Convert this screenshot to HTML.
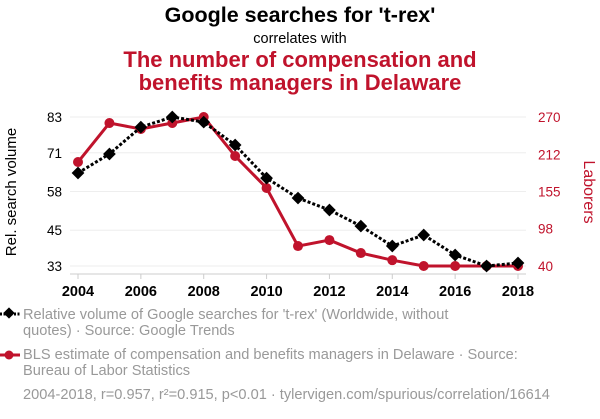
<!DOCTYPE html>
<html><head><meta charset="utf-8"><style>
body{margin:0;background:#fff;width:600px;height:414px;overflow:hidden;font-family:"Liberation Sans",sans-serif}
</style></head><body>
<svg width="600" height="414" xmlns="http://www.w3.org/2000/svg" font-family="Liberation Sans, sans-serif">
<text x="300" y="22" text-anchor="middle" font-size="21.5" font-weight="bold" fill="#000">Google searches for 't-rex'</text>
<text x="300" y="43" text-anchor="middle" font-size="14.5" fill="#000">correlates with</text>
<text x="300" y="67" text-anchor="middle" font-size="22" font-weight="bold" fill="#c0132c">The number of compensation and</text>
<text x="300" y="90" text-anchor="middle" font-size="22" font-weight="bold" fill="#c0132c">benefits managers in Delaware</text>
<g id="grid"></g><g id="axes"></g><g id="marks"></g>
<text transform="translate(16,192) rotate(-90)" text-anchor="middle" font-size="15" fill="#000">Rel. search volume</text>
<text transform="translate(584,192) rotate(90)" text-anchor="middle" font-size="16" fill="#c0132c">Laborers</text>
<g>
<line x1="0" y1="314" x2="20" y2="314" stroke="#000" stroke-width="3" stroke-dasharray="2,1.5"/>
<rect x="5" y="309" width="8" height="8" transform="rotate(45 9 313)" fill="#000"/>
<text x="23" y="319" font-size="14.6" fill="#999">Relative volume of Google searches for 't-rex' (Worldwide, without</text>
<text x="23" y="335" font-size="14.6" fill="#999">quotes) · Source: Google Trends</text></g>
<g>
<line x1="0" y1="355" x2="20" y2="355" stroke="#c0132c" stroke-width="3"/>
<circle cx="9" cy="355" r="4.5" fill="#c0132c"/>
<text x="23" y="359" font-size="14.6" fill="#999">BLS estimate of compensation and benefits managers in Delaware · Source:</text>
<text x="23" y="375" font-size="14.6" fill="#999">Bureau of Labor Statistics</text></g>
<text x="23" y="399" font-size="14.6" fill="#999">2004-2018, r=0.957, r²=0.915, p&lt;0.01 · tylervigen.com/spurious/correlation/16614</text>
</svg>
<script>
const years=[2004,2005,2006,2007,2008,2009,2010,2011,2012,2013,2014,2015,2016,2017,2018];
const trex=[64.2,70.6,79.6,83,81.3,73.6,62.5,55.8,51.8,46.4,39.7,43.4,36.7,33,34];
const bls=[200.5,260.7,251.5,260.7,270,209.8,160.4,70.8,80,60,49,40,40,40,40];
const leftTicks=[33,45,58,71,83];
const rightTicks=[40,98,155,212,270];
const xTicks=[2004,2006,2008,2010,2012,2014,2016,2018];
const NS="http://www.w3.org/2000/svg";
const x=v=>78+(v-2004)/14*440;
const yl=v=>266-(v-33)/50*149;
const yr=v=>266-(v-40)/230*149;
function mk(t,a,p){const e=document.createElementNS(NS,t);for(const k in a)e.setAttribute(k,a[k]);document.getElementById(p).appendChild(e);return e;}
leftTicks.forEach((t,i)=>{
 const g=mk('line',{x1:70,x2:526,y1:yl(t),y2:yl(t),stroke:'#eee','stroke-width':1},'grid');
 
 
 const a=mk('text',{x:62,y:yl(t)+5,'text-anchor':'end','font-size':13.5,fill:'#000'},'axes');a.textContent=t;
 
 
});
rightTicks.forEach(t=>{
 const a=mk('text',{x:538,y:yr(t)+5,'font-size':13.5,fill:'#c0132c'},'axes');a.textContent=t;
 
 
});
const ax=mk('line',{x1:70,x2:526,y1:274,y2:274,stroke:'#ccc'},'axes');


xTicks.forEach(t=>{
 mk('line',{x1:x(t),x2:x(t),y1:274,y2:279,stroke:'#ccc'},'axes');
 const a=mk('text',{x:x(t),y:296,'text-anchor':'middle','font-size':14.5,'font-weight':'bold',fill:'#000'},'axes');a.textContent=t;
 
 
});
const rl=mk('polyline',{points:years.map((y,i)=>x(y)+','+yr(bls[i])).join(' '),fill:'none',stroke:'#c0132c','stroke-width':3},'marks');


years.forEach((y,i)=>{const c=mk('circle',{cx:x(y),cy:yr(bls[i]),r:5,fill:'#c0132c'},'marks');
 
 });
const bl=mk('polyline',{points:years.map((y,i)=>x(y)+','+yl(trex[i])).join(' '),fill:'none',stroke:'#000','stroke-width':3,'stroke-dasharray':'3,2'},'marks');


years.forEach((y,i)=>{const cx=x(y),cy=yl(trex[i]);const r=mk('rect',{x:cx-4.5,y:cy-4.5,width:9,height:9,fill:'#000',transform:`rotate(45 ${cx} ${cy})`},'marks');
 
 });
</script>
</body></html>
